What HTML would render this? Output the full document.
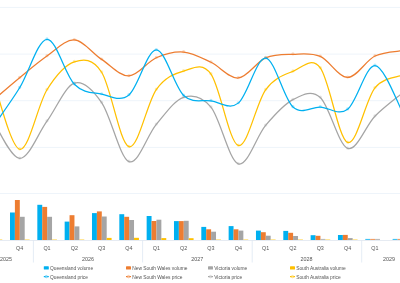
<!DOCTYPE html>
<html><head><meta charset="utf-8"><style>
html,body{margin:0;padding:0;background:#fff;width:400px;height:283px;overflow:hidden}
svg{display:block;will-change:transform}
.ax{font-family:"Liberation Sans",sans-serif;font-size:5.4px;fill:#555}
.yr{font-family:"Liberation Sans",sans-serif;font-size:6px;fill:#555;transform-box:fill-box}
.lg{font-family:"Liberation Sans",sans-serif;font-size:4.85px;fill:#555}
</style></head><body>
<svg width="400" height="283" viewBox="0 0 400 283">
<line x1="0" x2="400" y1="7.4" y2="7.4" stroke="#EEF4FA" stroke-width="1"/>
<line x1="0" x2="400" y1="54.1" y2="54.1" stroke="#EEF4FA" stroke-width="1"/>
<line x1="0" x2="400" y1="100.7" y2="100.7" stroke="#EEF4FA" stroke-width="1"/>
<line x1="0" x2="400" y1="147.4" y2="147.4" stroke="#EEF4FA" stroke-width="1"/>
<line x1="0" x2="400" y1="193.5" y2="193.5" stroke="#EEF4FA" stroke-width="1"/>
<path d="M-7.68,119.35 C-3.12,125.87 10.54,158.17 19.65,158.48 C28.76,158.79 37.87,133.74 46.98,121.19 C56.09,108.64 65.20,86.27 74.31,83.16 C83.42,80.05 92.53,89.48 101.64,102.55 C110.75,115.62 119.86,157.95 128.97,161.60 C138.08,165.25 147.19,135.13 156.30,124.42 C165.41,113.70 174.52,100.18 183.63,97.31 C192.74,94.44 201.85,96.08 210.96,107.18 C220.07,118.28 229.18,160.88 238.29,163.91 C247.40,166.94 256.51,136.09 265.62,125.38 C274.73,114.67 283.84,104.29 292.95,99.64 C302.06,94.99 311.17,89.35 320.28,97.47 C329.39,105.59 338.50,145.26 347.61,148.38 C356.72,151.50 365.83,125.42 374.94,116.21 C384.05,107.00 397.71,96.98 402.27,93.13" fill="none" stroke="#A5A5A5" stroke-width="1.25"/>
<circle cx="19.65" cy="158.08" r="1.6" fill="#A5A5A5" fill-opacity="0.3"/>
<circle cx="46.98" cy="120.79" r="1.6" fill="#A5A5A5" fill-opacity="0.3"/>
<circle cx="74.31" cy="82.76" r="1.6" fill="#A5A5A5" fill-opacity="0.3"/>
<circle cx="101.64" cy="102.15" r="1.6" fill="#A5A5A5" fill-opacity="0.3"/>
<circle cx="128.97" cy="161.20" r="1.6" fill="#A5A5A5" fill-opacity="0.3"/>
<circle cx="156.30" cy="124.02" r="1.6" fill="#A5A5A5" fill-opacity="0.3"/>
<circle cx="183.63" cy="96.91" r="1.6" fill="#A5A5A5" fill-opacity="0.3"/>
<circle cx="210.96" cy="106.78" r="1.6" fill="#A5A5A5" fill-opacity="0.3"/>
<circle cx="238.29" cy="163.51" r="1.6" fill="#A5A5A5" fill-opacity="0.3"/>
<circle cx="265.62" cy="124.98" r="1.6" fill="#A5A5A5" fill-opacity="0.3"/>
<circle cx="292.95" cy="99.24" r="1.6" fill="#A5A5A5" fill-opacity="0.3"/>
<circle cx="320.28" cy="97.07" r="1.6" fill="#A5A5A5" fill-opacity="0.3"/>
<circle cx="347.61" cy="147.98" r="1.6" fill="#A5A5A5" fill-opacity="0.3"/>
<circle cx="374.94" cy="115.81" r="1.6" fill="#A5A5A5" fill-opacity="0.3"/>
<circle cx="402.27" cy="92.73" r="1.6" fill="#A5A5A5" fill-opacity="0.3"/>
<path d="M-7.68,77.28 C-3.12,89.28 10.54,147.17 19.65,149.25 C28.76,151.33 37.87,104.33 46.98,89.76 C56.09,75.20 65.20,64.78 74.31,61.86 C83.42,58.94 92.53,58.08 101.64,72.22 C110.75,86.36 119.86,143.83 128.97,146.71 C138.08,149.59 147.19,102.12 156.30,89.51 C165.41,76.90 174.52,73.61 183.63,71.03 C192.74,68.45 201.85,61.63 210.96,74.04 C220.07,86.45 229.18,142.85 238.29,145.47 C247.40,148.09 256.51,102.12 265.62,89.77 C274.73,77.42 283.84,74.99 292.95,71.35 C302.06,67.71 311.17,56.07 320.28,67.92 C329.39,79.77 338.50,139.12 347.61,142.45 C356.72,145.78 365.83,99.09 374.94,87.89 C384.05,76.69 397.71,77.33 402.27,75.22" fill="none" stroke="#FFC000" stroke-width="1.25"/>
<circle cx="19.65" cy="148.85" r="1.6" fill="#FFC000" fill-opacity="0.3"/>
<circle cx="46.98" cy="89.36" r="1.6" fill="#FFC000" fill-opacity="0.3"/>
<circle cx="74.31" cy="61.46" r="1.6" fill="#FFC000" fill-opacity="0.3"/>
<circle cx="101.64" cy="71.82" r="1.6" fill="#FFC000" fill-opacity="0.3"/>
<circle cx="128.97" cy="146.31" r="1.6" fill="#FFC000" fill-opacity="0.3"/>
<circle cx="156.30" cy="89.11" r="1.6" fill="#FFC000" fill-opacity="0.3"/>
<circle cx="183.63" cy="70.63" r="1.6" fill="#FFC000" fill-opacity="0.3"/>
<circle cx="210.96" cy="73.64" r="1.6" fill="#FFC000" fill-opacity="0.3"/>
<circle cx="238.29" cy="145.07" r="1.6" fill="#FFC000" fill-opacity="0.3"/>
<circle cx="265.62" cy="89.37" r="1.6" fill="#FFC000" fill-opacity="0.3"/>
<circle cx="292.95" cy="70.95" r="1.6" fill="#FFC000" fill-opacity="0.3"/>
<circle cx="320.28" cy="67.52" r="1.6" fill="#FFC000" fill-opacity="0.3"/>
<circle cx="347.61" cy="142.05" r="1.6" fill="#FFC000" fill-opacity="0.3"/>
<circle cx="374.94" cy="87.49" r="1.6" fill="#FFC000" fill-opacity="0.3"/>
<circle cx="402.27" cy="74.82" r="1.6" fill="#FFC000" fill-opacity="0.3"/>
<path d="M-7.68,100.96 C-3.12,97.08 10.54,85.19 19.65,77.71 C28.76,70.23 37.87,62.36 46.98,56.07 C56.09,49.78 65.20,39.42 74.31,39.97 C83.42,40.52 92.53,53.40 101.64,59.39 C110.75,65.39 119.86,76.21 128.97,75.94 C138.08,75.67 147.19,61.77 156.30,57.79 C165.41,53.81 174.52,51.31 183.63,52.06 C192.74,52.81 201.85,57.99 210.96,62.31 C220.07,66.63 229.18,78.73 238.29,77.98 C247.40,77.23 256.51,61.79 265.62,57.84 C274.73,53.89 283.84,54.51 292.95,54.27 C302.06,54.03 311.17,52.51 320.28,56.38 C329.39,60.25 338.50,77.55 347.61,77.49 C356.72,77.43 365.83,60.51 374.94,56.04 C384.05,51.57 397.71,51.57 402.27,50.68" fill="none" stroke="#ED7D31" stroke-width="1.25"/>
<circle cx="19.65" cy="77.31" r="1.6" fill="#ED7D31" fill-opacity="0.3"/>
<circle cx="46.98" cy="55.67" r="1.6" fill="#ED7D31" fill-opacity="0.3"/>
<circle cx="74.31" cy="39.57" r="1.6" fill="#ED7D31" fill-opacity="0.3"/>
<circle cx="101.64" cy="58.99" r="1.6" fill="#ED7D31" fill-opacity="0.3"/>
<circle cx="128.97" cy="75.54" r="1.6" fill="#ED7D31" fill-opacity="0.3"/>
<circle cx="156.30" cy="57.39" r="1.6" fill="#ED7D31" fill-opacity="0.3"/>
<circle cx="183.63" cy="51.66" r="1.6" fill="#ED7D31" fill-opacity="0.3"/>
<circle cx="210.96" cy="61.91" r="1.6" fill="#ED7D31" fill-opacity="0.3"/>
<circle cx="238.29" cy="77.58" r="1.6" fill="#ED7D31" fill-opacity="0.3"/>
<circle cx="265.62" cy="57.44" r="1.6" fill="#ED7D31" fill-opacity="0.3"/>
<circle cx="292.95" cy="53.87" r="1.6" fill="#ED7D31" fill-opacity="0.3"/>
<circle cx="320.28" cy="55.98" r="1.6" fill="#ED7D31" fill-opacity="0.3"/>
<circle cx="347.61" cy="77.09" r="1.6" fill="#ED7D31" fill-opacity="0.3"/>
<circle cx="374.94" cy="55.64" r="1.6" fill="#ED7D31" fill-opacity="0.3"/>
<circle cx="402.27" cy="50.28" r="1.6" fill="#ED7D31" fill-opacity="0.3"/>
<path d="M-7.68,127.67 C-3.12,121.02 10.54,102.51 19.65,87.78 C28.76,73.05 37.87,39.87 46.98,39.28 C56.09,38.69 65.20,75.08 74.31,84.22 C83.42,93.36 92.53,92.34 101.64,94.13 C110.75,95.92 119.86,102.34 128.97,94.98 C138.08,87.62 147.19,49.89 156.30,49.97 C165.41,50.05 174.52,86.98 183.63,95.46 C192.74,103.94 201.85,99.56 210.96,100.84 C220.07,102.12 229.18,110.23 238.29,103.13 C247.40,96.03 256.51,57.57 265.62,58.22 C274.73,58.87 283.84,98.89 292.95,107.03 C302.06,115.17 311.17,106.70 320.28,107.08 C329.39,107.46 338.50,116.24 347.61,109.33 C356.72,102.42 365.83,65.25 374.94,65.61 C384.05,65.97 397.71,103.85 402.27,111.50" fill="none" stroke="#00B0F0" stroke-width="1.25"/>
<circle cx="19.65" cy="87.38" r="1.6" fill="#00B0F0" fill-opacity="0.3"/>
<circle cx="46.98" cy="38.88" r="1.6" fill="#00B0F0" fill-opacity="0.3"/>
<circle cx="74.31" cy="83.82" r="1.6" fill="#00B0F0" fill-opacity="0.3"/>
<circle cx="101.64" cy="93.73" r="1.6" fill="#00B0F0" fill-opacity="0.3"/>
<circle cx="128.97" cy="94.58" r="1.6" fill="#00B0F0" fill-opacity="0.3"/>
<circle cx="156.30" cy="49.57" r="1.6" fill="#00B0F0" fill-opacity="0.3"/>
<circle cx="183.63" cy="95.06" r="1.6" fill="#00B0F0" fill-opacity="0.3"/>
<circle cx="210.96" cy="100.44" r="1.6" fill="#00B0F0" fill-opacity="0.3"/>
<circle cx="238.29" cy="102.73" r="1.6" fill="#00B0F0" fill-opacity="0.3"/>
<circle cx="265.62" cy="57.82" r="1.6" fill="#00B0F0" fill-opacity="0.3"/>
<circle cx="292.95" cy="106.63" r="1.6" fill="#00B0F0" fill-opacity="0.3"/>
<circle cx="320.28" cy="106.68" r="1.6" fill="#00B0F0" fill-opacity="0.3"/>
<circle cx="347.61" cy="108.93" r="1.6" fill="#00B0F0" fill-opacity="0.3"/>
<circle cx="374.94" cy="65.21" r="1.6" fill="#00B0F0" fill-opacity="0.3"/>
<circle cx="402.27" cy="111.10" r="1.6" fill="#00B0F0" fill-opacity="0.3"/>
<rect x="10.00" y="212.50" width="4.90" height="27.50" fill="#00B0F0"/>
<rect x="14.90" y="200.00" width="4.90" height="40.00" fill="#ED7D31"/>
<rect x="19.80" y="216.80" width="4.90" height="23.20" fill="#A5A5A5"/>
<rect x="24.70" y="239.10" width="4.90" height="1.10" fill="#FFC000" fill-opacity="0.45"/>
<rect x="37.33" y="204.80" width="4.90" height="35.20" fill="#00B0F0"/>
<rect x="42.23" y="206.90" width="4.90" height="33.10" fill="#ED7D31"/>
<rect x="47.13" y="216.80" width="4.90" height="23.20" fill="#A5A5A5"/>
<rect x="52.03" y="239.10" width="4.90" height="1.10" fill="#FFC000" fill-opacity="0.45"/>
<rect x="64.66" y="221.60" width="4.90" height="18.40" fill="#00B0F0"/>
<rect x="69.56" y="215.20" width="4.90" height="24.80" fill="#ED7D31"/>
<rect x="74.46" y="226.40" width="4.90" height="13.60" fill="#A5A5A5"/>
<rect x="79.36" y="239.10" width="4.90" height="1.10" fill="#FFC000" fill-opacity="0.45"/>
<rect x="91.99" y="213.10" width="4.90" height="26.90" fill="#00B0F0"/>
<rect x="96.89" y="211.40" width="4.90" height="28.60" fill="#ED7D31"/>
<rect x="101.79" y="216.50" width="4.90" height="23.50" fill="#A5A5A5"/>
<rect x="106.69" y="237.90" width="4.90" height="2.10" fill="#FFC000"/>
<rect x="119.32" y="214.20" width="4.90" height="25.80" fill="#00B0F0"/>
<rect x="124.22" y="216.80" width="4.90" height="23.20" fill="#ED7D31"/>
<rect x="129.12" y="220.00" width="4.90" height="20.00" fill="#A5A5A5"/>
<rect x="134.02" y="237.80" width="4.90" height="2.20" fill="#FFC000"/>
<rect x="146.65" y="216.00" width="4.90" height="24.00" fill="#00B0F0"/>
<rect x="151.55" y="221.00" width="4.90" height="19.00" fill="#ED7D31"/>
<rect x="156.45" y="219.70" width="4.90" height="20.30" fill="#A5A5A5"/>
<rect x="161.35" y="238.10" width="4.90" height="1.90" fill="#FFC000"/>
<rect x="173.98" y="221.10" width="4.90" height="18.90" fill="#00B0F0"/>
<rect x="178.88" y="221.10" width="4.90" height="18.90" fill="#ED7D31"/>
<rect x="183.78" y="220.80" width="4.90" height="19.20" fill="#A5A5A5"/>
<rect x="188.68" y="238.20" width="4.90" height="1.80" fill="#FFC000"/>
<rect x="201.31" y="226.90" width="4.90" height="13.10" fill="#00B0F0"/>
<rect x="206.21" y="229.30" width="4.90" height="10.70" fill="#ED7D31"/>
<rect x="211.11" y="231.70" width="4.90" height="8.30" fill="#A5A5A5"/>
<rect x="216.01" y="239.10" width="4.90" height="1.10" fill="#FFC000" fill-opacity="0.45"/>
<rect x="228.64" y="226.10" width="4.90" height="13.90" fill="#00B0F0"/>
<rect x="233.54" y="229.30" width="4.90" height="10.70" fill="#ED7D31"/>
<rect x="238.44" y="230.60" width="4.90" height="9.40" fill="#A5A5A5"/>
<rect x="243.34" y="239.10" width="4.90" height="1.10" fill="#FFC000" fill-opacity="0.45"/>
<rect x="255.97" y="230.60" width="4.90" height="9.40" fill="#00B0F0"/>
<rect x="260.87" y="232.20" width="4.90" height="7.80" fill="#ED7D31"/>
<rect x="265.77" y="235.70" width="4.90" height="4.30" fill="#A5A5A5"/>
<rect x="270.67" y="239.10" width="4.90" height="1.10" fill="#FFC000" fill-opacity="0.45"/>
<rect x="283.30" y="230.90" width="4.90" height="9.10" fill="#00B0F0"/>
<rect x="288.20" y="232.80" width="4.90" height="7.20" fill="#ED7D31"/>
<rect x="293.10" y="236.00" width="4.90" height="4.00" fill="#A5A5A5"/>
<rect x="298.00" y="239.10" width="4.90" height="1.10" fill="#FFC000" fill-opacity="0.45"/>
<rect x="310.63" y="235.20" width="4.90" height="4.80" fill="#00B0F0"/>
<rect x="315.53" y="235.80" width="4.90" height="4.20" fill="#ED7D31"/>
<rect x="320.43" y="238.90" width="4.90" height="1.25" fill="#A5A5A5" fill-opacity="0.75"/>
<rect x="325.33" y="239.10" width="4.90" height="1.10" fill="#FFC000" fill-opacity="0.45"/>
<rect x="337.96" y="235.00" width="4.90" height="5.00" fill="#00B0F0"/>
<rect x="342.86" y="234.90" width="4.90" height="5.10" fill="#ED7D31"/>
<rect x="347.76" y="238.10" width="4.90" height="1.90" fill="#A5A5A5"/>
<rect x="352.66" y="239.10" width="4.90" height="1.10" fill="#FFC000" fill-opacity="0.45"/>
<rect x="365.29" y="238.90" width="4.90" height="1.25" fill="#00B0F0" fill-opacity="0.75"/>
<rect x="370.19" y="238.90" width="4.90" height="1.25" fill="#ED7D31" fill-opacity="0.75"/>
<rect x="375.09" y="238.90" width="4.90" height="1.25" fill="#A5A5A5" fill-opacity="0.75"/>
<rect x="392.62" y="238.90" width="4.90" height="1.25" fill="#00B0F0" fill-opacity="0.75"/>
<rect x="397.52" y="238.90" width="4.90" height="1.25" fill="#ED7D31" fill-opacity="0.75"/>
<rect x="-2.63" y="239.1" width="4.90" height="1.1" fill="#FFC000" fill-opacity="0.45"/>
<line x1="0" x2="400" y1="240.5" y2="240.5" stroke="#E6EBF2" stroke-width="1"/>
<line x1="33.4" x2="33.4" y1="240" y2="262.5" stroke="#DDE7F3" stroke-width="0.8"/>
<line x1="142.6" x2="142.6" y1="240" y2="262.5" stroke="#DDE7F3" stroke-width="0.8"/>
<line x1="252.2" x2="252.2" y1="240" y2="262.5" stroke="#DDE7F3" stroke-width="0.8"/>
<line x1="361.7" x2="361.7" y1="240" y2="262.5" stroke="#DDE7F3" stroke-width="0.8"/>
<text x="19.65" y="250" text-anchor="middle" class="ax">Q4</text>
<text x="46.98" y="250" text-anchor="middle" class="ax">Q1</text>
<text x="74.31" y="250" text-anchor="middle" class="ax">Q2</text>
<text x="101.64" y="250" text-anchor="middle" class="ax">Q3</text>
<text x="128.97" y="250" text-anchor="middle" class="ax">Q4</text>
<text x="156.30" y="250" text-anchor="middle" class="ax">Q1</text>
<text x="183.63" y="250" text-anchor="middle" class="ax">Q2</text>
<text x="210.96" y="250" text-anchor="middle" class="ax">Q3</text>
<text x="238.29" y="250" text-anchor="middle" class="ax">Q4</text>
<text x="265.62" y="250" text-anchor="middle" class="ax">Q1</text>
<text x="292.95" y="250" text-anchor="middle" class="ax">Q2</text>
<text x="320.28" y="250" text-anchor="middle" class="ax">Q3</text>
<text x="347.61" y="250" text-anchor="middle" class="ax">Q4</text>
<text x="374.94" y="250" text-anchor="middle" class="ax">Q1</text>
<text x="0.00" y="261.4" textLength="12" lengthAdjust="spacingAndGlyphs" class="yr">2025</text>
<text x="82.00" y="261.4" textLength="12" lengthAdjust="spacingAndGlyphs" class="yr">2026</text>
<text x="191.30" y="261.4" textLength="12" lengthAdjust="spacingAndGlyphs" class="yr">2027</text>
<text x="300.60" y="261.4" textLength="12" lengthAdjust="spacingAndGlyphs" class="yr">2028</text>
<text x="383.00" y="261.4" textLength="12" lengthAdjust="spacingAndGlyphs" class="yr">2029</text>
<rect x="43.8" y="266.2" width="5" height="3.4" rx="0.6" fill="#00B0F0"/>
<text x="50.0" y="270.3" class="lg">Queensland volume</text>
<rect x="126.0" y="266.2" width="5" height="3.4" rx="0.6" fill="#ED7D31"/>
<text x="132.2" y="270.3" class="lg">New South Wales volume</text>
<rect x="208.0" y="266.2" width="5" height="3.4" rx="0.6" fill="#A5A5A5"/>
<text x="214.2" y="270.3" class="lg">Victoria volume</text>
<rect x="290.0" y="266.2" width="5" height="3.4" rx="0.6" fill="#FFC000"/>
<text x="296.2" y="270.3" class="lg">South Australia volume</text>
<line x1="43.8" x2="48.8" y1="276.6" y2="276.6" stroke="#00B0F0" stroke-width="1.2"/>
<circle cx="46.3" cy="276.6" r="1.2" fill="#fff" fill-opacity="0.45" stroke="#00B0F0" stroke-width="0.6" stroke-opacity="0.7"/>
<text x="50.0" y="278.9" class="lg">Queensland price</text>
<line x1="126.0" x2="131.0" y1="276.6" y2="276.6" stroke="#ED7D31" stroke-width="1.2"/>
<circle cx="128.5" cy="276.6" r="1.2" fill="#fff" fill-opacity="0.45" stroke="#ED7D31" stroke-width="0.6" stroke-opacity="0.7"/>
<text x="132.2" y="278.9" class="lg">New South Wales price</text>
<line x1="208.0" x2="213.0" y1="276.6" y2="276.6" stroke="#A5A5A5" stroke-width="1.2"/>
<circle cx="210.5" cy="276.6" r="1.2" fill="#fff" fill-opacity="0.45" stroke="#A5A5A5" stroke-width="0.6" stroke-opacity="0.7"/>
<text x="214.2" y="278.9" class="lg">Victoria price</text>
<line x1="290.0" x2="295.0" y1="276.6" y2="276.6" stroke="#FFC000" stroke-width="1.2"/>
<circle cx="292.5" cy="276.6" r="1.2" fill="#fff" fill-opacity="0.45" stroke="#FFC000" stroke-width="0.6" stroke-opacity="0.7"/>
<text x="296.2" y="278.9" class="lg">South Australia price</text>
</svg>
</body></html>
